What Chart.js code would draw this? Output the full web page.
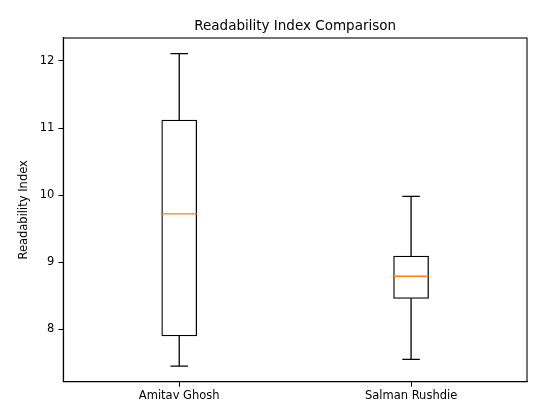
<!DOCTYPE html>
<html><head><meta charset="utf-8">
<script src="https://cdn.jsdelivr.net/npm/chart.js@4"></script>
<style>html,body{margin:0;padding:0;background:#fff}#wrap{width:534px;height:405px}</style>
</head><body><div id="wrap"><canvas id="c" width="534" height="405"></canvas></div>
<script>
const categories = ["Amitav Ghosh", "Salman Rushdie"];
const mins    = [7.45, 7.55];
const q1s     = [7.90, 8.46];
const medians = [9.72, 8.79];
const q3s     = [11.12, 9.09];
const maxs    = [12.11, 9.98];
const yTicks  = [8, 9, 10, 11, 12];
const yMin = 7.217, yMax = 12.343;

const boxPlugin = {
  id: 'boxExtras',
  afterDatasetsDraw(chart) {
    const ctx = chart.ctx, y = chart.scales.y;
    const meta = chart.getDatasetMeta(0);
    ctx.save();
    meta.data.forEach((bar, i) => {
      const x = bar.x, w = bar.width, cw = w / 2;
      ctx.strokeStyle = '#000'; ctx.lineWidth = 1.3;
      ctx.beginPath();
      ctx.moveTo(x, y.getPixelForValue(q3s[i])); ctx.lineTo(x, y.getPixelForValue(maxs[i]));
      ctx.moveTo(x, y.getPixelForValue(q1s[i])); ctx.lineTo(x, y.getPixelForValue(mins[i]));
      ctx.moveTo(x - cw/2, y.getPixelForValue(maxs[i])); ctx.lineTo(x + cw/2, y.getPixelForValue(maxs[i]));
      ctx.moveTo(x - cw/2, y.getPixelForValue(mins[i])); ctx.lineTo(x + cw/2, y.getPixelForValue(mins[i]));
      ctx.stroke();
      ctx.strokeStyle = '#ff7f0e';
      ctx.beginPath();
      const my = y.getPixelForValue(medians[i]);
      ctx.moveTo(x - w/2, my); ctx.lineTo(x + w/2, my);
      ctx.stroke();
    });
    const a = chart.chartArea;
    ctx.strokeStyle = '#000'; ctx.lineWidth = 1.1;
    ctx.strokeRect(a.left, a.top, a.right - a.left, a.bottom - a.top);
    ctx.restore();
  }
};

new Chart(document.getElementById('c'), {
  type: 'bar',
  data: {
    labels: categories,
    datasets: [{
      data: q1s.map((v, i) => [v, q3s[i]]),
      backgroundColor: '#fff',
      borderColor: '#000',
      borderWidth: 1.3,
      borderSkipped: false,
      barThickness: 35
    }]
  },
  options: {
    responsive: false,
    animation: false,
    layout: { padding: { left: 0, right: 7, top: 0, bottom: 0 } },
    plugins: {
      legend: { display: false },
      tooltip: { enabled: false },
      title: {
        display: true, text: 'Readability Index Comparison', fullSize: false,
        color: '#000', font: { family: 'DejaVu Sans', size: 13.5, weight: 'normal' },
        padding: { top: 18, bottom: 3.8 }
      }
    },
    scales: {
      x: {
        grid: { offset: false, drawOnChartArea: false, drawTicks: true, tickLength: 5, color: '#000' },
        border: { display: true, color: '#000', width: 1.1 },
        ticks: { color: '#000', font: { family: 'DejaVu Sans', size: 11.5 }, padding: 2.5 },
        afterFit(s) { s.height = 23.3; }
      },
      y: {
        min: yMin, max: yMax,
        afterBuildTicks(s) { s.ticks = yTicks.map(v => ({ value: v })); },
        grid: { drawOnChartArea: false, drawTicks: true, tickLength: 5, color: '#000' },
        border: { display: true, color: '#000', width: 1.1 },
        ticks: { color: '#000', font: { family: 'DejaVu Sans', size: 11.5 }, padding: 4 },
        title: { display: true, text: 'Readability Index', color: '#000',
                 font: { family: 'DejaVu Sans', size: 11.5 }, padding: { top: 17, bottom: 0 } },
        afterFit(s) { s.width = 63.3; }
      }
    }
  },
  plugins: [boxPlugin]
});
</script></body></html>
